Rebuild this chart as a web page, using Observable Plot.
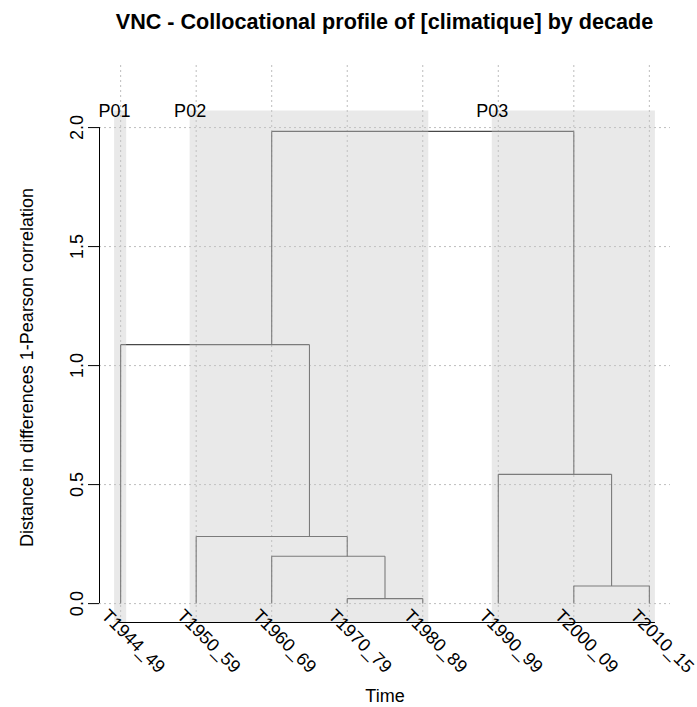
<!DOCTYPE html>
<html><head><meta charset="utf-8">
<script src="https://cdn.jsdelivr.net/npm/d3@7"></script>
<script src="https://cdn.jsdelivr.net/npm/@observablehq/plot@0.6"></script>
<style>
body{margin:0;background:#fff;font-family:"Liberation Sans",Arial,Helvetica,sans-serif;}
#title{height:40px;box-sizing:border-box;padding-top:10px;margin-left:99px;width:571px;text-align:center;font-weight:bold;font-size:21.6px;line-height:24px;color:#000;white-space:nowrap;}
</style></head><body>
<div id="title">VNC - Collocational profile of [climatique] by decade</div>
<div id="chart"></div>
<script>
// ---- data ----
const leaves = ["T1944_49","T1950_59","T1960_69","T1970_79","T1980_89","T1990_99","T2000_09","T2010_15"];
// hclust-style merge table: negative = leaf index, positive = earlier merge
const mergeA = [-4, -7, -3, -2, -6, -1, 6];
const mergeB = [-5, -8,  1,  3,  2,  4, 5];
const mergeHeight = [0.021, 0.074, 0.199, 0.282, 0.543, 1.088, 1.984];
const periodLabels = ["P01","P02","P03"];
const periodFirst = [1, 2, 6];
const periodLast  = [1, 5, 8];
const yTicks = [0, 0.5, 1, 1.5, 2];
const titleText = "VNC - Collocational profile of [climatique] by decade";
const xLabel = "Time";
const yLabel = "Distance in differences 1-Pearson correlation";

// ---- build dendrogram segments ----
const nodes = [];
const segs = [];
function info(id){ return id < 0 ? {x:-id, h:0, lo:-id, hi:-id} : nodes[id-1]; }
mergeHeight.forEach((h, i) => {
  const a = info(mergeA[i]), b = info(mergeB[i]);
  const lo = Math.min(a.lo, b.lo), hi = Math.max(a.hi, b.hi);
  nodes.push({x:(lo+hi)/2, h, lo, hi});
  segs.push({x1:a.x, y1:h, x2:b.x, y2:h});
  segs.push({x1:a.x, y1:a.h, x2:a.x, y2:h});
  segs.push({x1:b.x, y1:b.h, x2:b.x, y2:h});
});
const n = leaves.length;
const leafIdx = leaves.map((d,i)=>i+1);
const ymax = d3.max(mergeHeight);
// R-style 4% axis extension
const xDomain = [1 - 0.04*(n-1), n + 0.04*(n-1)];
const yDomain = [-0.04*ymax, ymax*1.04];
const pad = 0.08;
const periods = periodLabels.map((p,i)=>({label:p, x1:periodFirst[i]-pad, x2:periodLast[i]+pad}));
const leafData = leaves.map((l,i)=>({label:l, x:i+1}));

document.getElementById("title").textContent = titleText;

const font = "Liberation Sans, Arial, Helvetica, sans-serif";
const plot = Plot.plot({
  width: 697, height: 667,
  marginLeft: 99, marginRight: 27, marginTop: 72, marginBottom: 85,
  style: {fontFamily: font, fontSize: "18px", background: "#fff", color: "#000"},
  x: {domain: xDomain, axis: null},
  y: {domain: yDomain, axis: null},
  marks: [
    Plot.ruleY(yTicks, {stroke: "#bdbdbd", strokeDasharray: "2,3"}),
    Plot.ruleX(leafIdx, {stroke: "#bdbdbd", strokeDasharray: "2,3", insetTop: -47}),
    Plot.link(segs, {x1:"x1", y1:"y1", x2:"x2", y2:"y2", stroke:"#484848", strokeWidth:1.1}),
    Plot.rect(periods, {x1:"x1", x2:"x2", y1: yDomain[0], y2: yDomain[1], fill:"#c9c9c9", fillOpacity:0.4, insetTop:-1.5}),
    Plot.ruleY([yDomain[0]], {x1: 1 - pad/3, x2: periods[periods.length-1].x2, stroke:"#000"}),
    Plot.text(periods, {x:"x1", y: yDomain[1], text:"label", fontSize:18, lineAnchor:"middle", dy:-1}),
    // y axis
    Plot.ruleX([xDomain[0]], {y1: yTicks[0], y2: yTicks[yTicks.length-1], stroke:"#000"}),
    Plot.axisY(yTicks, {anchor:"left", tickSize:11, tickFormat: () => "", label: null}),
    Plot.text(yTicks, {y: d=>d, frameAnchor:"left", textAnchor:"middle", text: d3.format(".1f"), rotate:-90, dx:-17, lineAnchor:"bottom", fontSize:18}),
    Plot.text([yLabel], {frameAnchor:"left", textAnchor:"middle", rotate:-90, dx:-67, lineAnchor:"bottom", fontSize:18}),
    // x labels
    Plot.text(leafData, {x:"x", y: 0, text:"label", rotate:45, textAnchor:"start", lineAnchor:"middle", dx:-16, dy:9, fontSize:18}),
    Plot.text([xLabel], {frameAnchor:"bottom", textAnchor:"middle", lineAnchor:"bottom", dy:79, fontSize:18})
  ]
});
document.getElementById("chart").appendChild(plot);
</script>
</body></html>
